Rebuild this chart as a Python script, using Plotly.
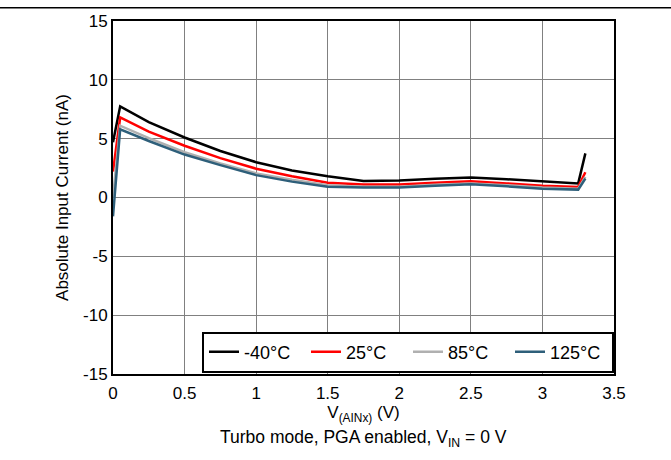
import plotly.graph_objects as go

x_v = [0, 0.05, 0.25, 0.5, 0.75, 1.0, 1.25, 1.5, 1.75, 2.0, 2.25, 2.5, 2.75, 3.0, 3.25, 3.3]
i_m40 = [4.7, 7.75, 6.4, 5.1, 3.95, 3.0, 2.3, 1.8, 1.4, 1.45, 1.6, 1.7, 1.55, 1.35, 1.2, 3.75]
i_25 = [2.2, 6.8, 5.6, 4.4, 3.35, 2.45, 1.8, 1.25, 1.1, 1.1, 1.25, 1.38, 1.2, 1.0, 0.9, 2.15]
i_85 = [0.0, 6.1, 5.05, 3.85, 2.9, 2.05, 1.5, 1.05, 0.92, 0.92, 1.08, 1.2, 1.05, 0.85, 0.75, 1.75]
i_125 = [-1.6, 5.8, 4.8, 3.65, 2.75, 1.9, 1.35, 0.92, 0.84, 0.84, 1.0, 1.12, 0.95, 0.75, 0.67, 1.6]

series = [
    ("-40°C", i_m40, "#000000"),
    ("25°C", i_25, "#ff0000"),
    ("85°C", i_85, "#b0b0b0"),
    ("125°C", i_125, "#2e5f7a"),
]

x_ticks = [0, 0.5, 1, 1.5, 2, 2.5, 3, 3.5]
x_tick_text = ["0", "0.5", "1", "1.5", "2", "2.5", "3", "3.5"]
y_ticks = [-15, -10, -5, 0, 5, 10, 15]
y_tick_text = ["-15", "-10", "-5", "0", "5", "10", "15"]

fig = go.Figure()
for name, vals, col in series:
    fig.add_trace(go.Scatter(x=x_v, y=vals, mode="lines", name=name,
                             line=dict(color=col, width=2.5)))

W, H = 671, 460
L, R, T, B = 113, 57, 15, 86
pw = W - L - R
ph = H - T - B

fig.update_layout(
    width=W, height=H,
    margin=dict(l=L, r=R, t=T, b=B),
    paper_bgcolor="white", plot_bgcolor="white",
    font=dict(family="Liberation Sans, Arial, sans-serif", size=17, color="black"),
    showlegend=True,
    legend=dict(orientation="h", x=1, xanchor="right", y=0.004, yanchor="bottom",
                bgcolor="white", bordercolor="black", borderwidth=2,
                font=dict(size=18), entrywidth=57, entrywidthmode="pixels",
                itemwidth=30, tracegroupgap=0),
    xaxis=dict(range=[0, 3.5], tickvals=x_ticks, ticktext=x_tick_text,
               showgrid=True, gridcolor="#808080", gridwidth=1,
               showline=True, linecolor="black", linewidth=2, mirror=True,
               zeroline=False, ticks="", ticklen=0, ticklabelstandoff=3,
               tickfont=dict(size=17),
               title=dict(text="V<sub>(AINx)</sub> (V)", font=dict(size=17), standoff=2)),
    yaxis=dict(range=[-15, 15], tickvals=y_ticks, ticktext=y_tick_text,
               showgrid=True, gridcolor="#808080", gridwidth=1,
               showline=True, linecolor="black", linewidth=2, mirror=True,
               zeroline=False, ticks="", ticklen=0,
               tickfont=dict(size=17),
               title=dict(text="Absolute Input Current (nA)", font=dict(size=17), standoff=10)),
)

fig.add_annotation(text="Turbo mode, PGA enabled, V<sub>IN</sub> = 0 V",
                   xref="paper", yref="paper", x=0.5, y=-(440 - T - ph) / ph,
                   xanchor="center", yanchor="middle", showarrow=False,
                   font=dict(size=17.5))

fig.add_shape(type="line", xref="paper", yref="paper",
              x0=-L / pw, x1=(W - L) / pw, y0=1 + (T - 1.5) / ph, y1=1 + (T - 1.5) / ph,
              line=dict(color="black", width=1.5))

fig.write_html("out.html", config={"displayModeBar": False},
               post_script="document.body.style.margin='0';")
